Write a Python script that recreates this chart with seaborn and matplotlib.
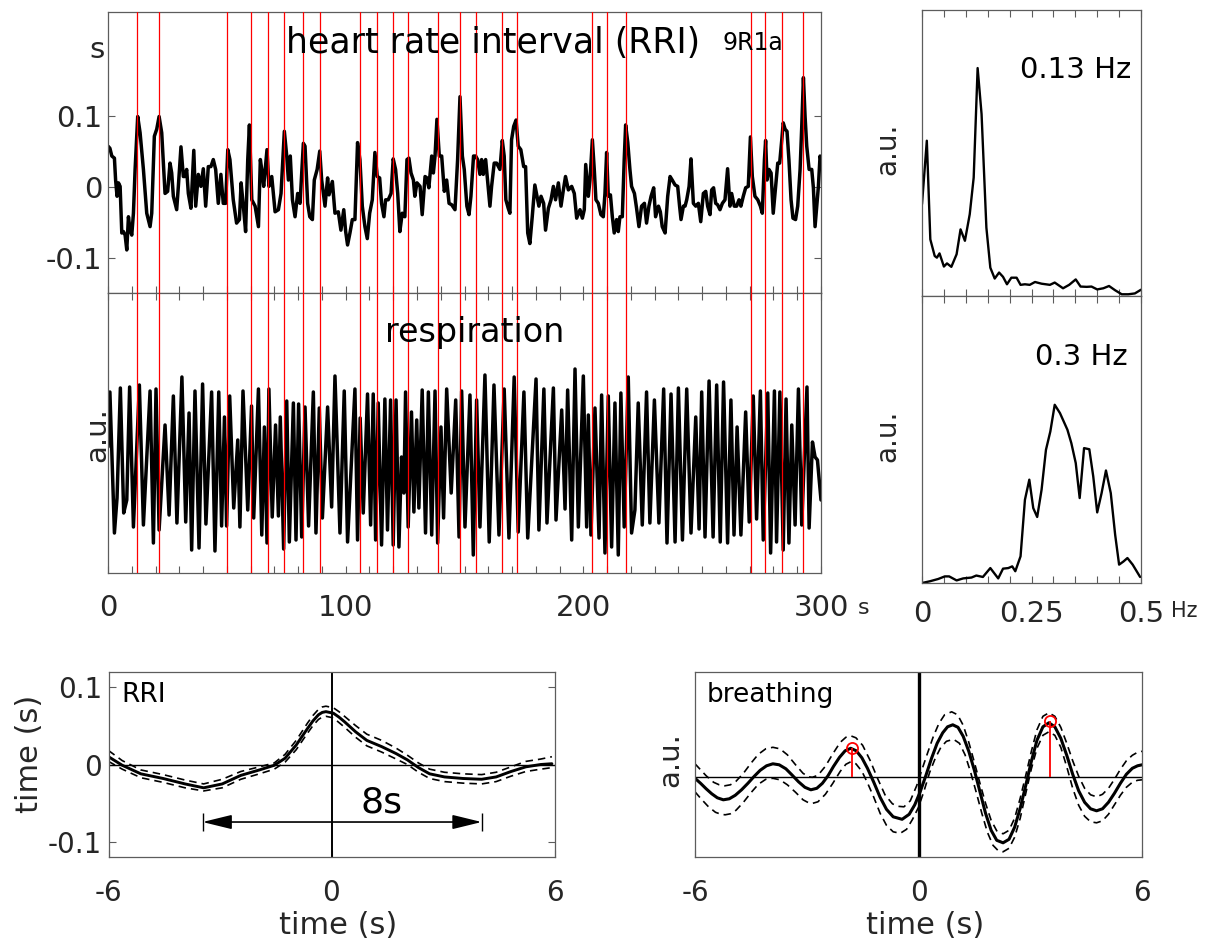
import numpy as np
import pandas as pd
import matplotlib
matplotlib.use("Agg")
import matplotlib.pyplot as plt
import seaborn as sns

# ---------------- data ----------------
# heart rate interval (RRI) trace, seconds vs seconds
rri_time = [
    0.0, 0.8, 1.6, 2.7, 3.2, 3.8, 4.4, 5.1, 5.8, 6.5,
    7.2, 7.9, 8.6, 9.3, 10.0, 10.7, 11.4, 12.5, 13.5, 14.9,
    16.3, 17.7, 18.4, 19.5, 20.5, 21.5, 22.6, 24.0, 25.1, 26.1,
    26.8, 27.5, 28.9, 29.6, 30.7, 31.7, 32.4, 33.1, 33.8, 34.9,
    36.1, 36.9, 38.0, 39.1, 40.1, 41.1, 42.2, 43.3, 44.3, 45.3,
    46.4, 47.5, 48.5, 49.5, 50.4, 51.3, 52.7, 54.1, 55.3, 56.0,
    56.9, 57.9, 58.8, 59.5, 60.5, 61.9, 63.3, 64.1, 64.9, 65.5,
    66.9, 67.7, 68.9, 70.3, 71.7, 72.8, 74.2, 75.2, 75.9, 76.7,
    77.6, 78.7, 79.8, 80.8, 82.2, 82.9, 84.0, 84.9, 86.0, 86.8,
    88.0, 89.1, 89.9, 91.3, 92.4, 93.0, 94.4, 95.5, 96.9, 98.0,
    99.2, 100.0,
    100.8, 101.8, 102.8, 103.9, 105.0, 106.0, 107.0, 108.1, 109.1, 110.1,
    111.2, 112.3, 113.3, 114.3, 115.1, 116.1, 116.8, 117.9, 119.1, 120.0,
    121.0, 121.9, 122.8, 123.8, 124.9, 125.8, 126.6, 127.5, 128.5, 129.1,
    130.0, 131.3, 132.2, 133.4, 134.2, 135.0, 136.2, 136.9, 137.6, 138.4,
    139.4, 140.4, 141.5, 142.5, 143.5, 144.6, 146.0, 147.1, 148.1, 149.1,
    149.9, 151.0, 151.9, 152.7, 153.8, 154.7, 155.5, 156.5, 157.2, 157.9,
    158.9, 159.7, 160.7, 161.4, 162.5, 163.5, 164.9, 165.9, 166.7, 167.4,
    168.4, 169.1, 169.8, 170.7, 171.7, 172.6, 173.7, 174.9, 175.7, 176.6,
    177.5, 178.5, 179.6, 180.5, 181.3, 182.2, 183.3, 184.1, 185.3, 186.4,
    187.4, 188.3, 189.5, 190.6, 191.6, 192.5, 193.7, 195.1, 196.2, 197.2,
    198.6, 199.6, 200.4, 201.0,
    202.1, 202.8, 203.8, 204.6, 205.3, 206.3, 207.4, 208.4, 209.1, 209.8,
    210.5, 211.4, 212.2, 213.0, 214.0, 214.7, 215.4, 216.4, 217.2, 217.8,
    218.7, 219.6, 220.3, 221.5, 222.4, 223.4, 224.5, 225.7, 226.6, 227.6,
    228.5, 229.6, 230.4, 231.6, 232.4, 233.2, 234.4, 235.5, 236.5, 237.4,
    238.6, 239.7, 240.5, 241.1, 242.1, 242.8, 243.5, 244.5, 245.3, 246.3,
    247.3, 248.4, 249.4, 250.5, 251.5, 252.3, 253.3, 254.0, 254.8, 255.7,
    256.5, 257.5, 258.5, 259.6, 260.7, 261.7, 262.4, 263.5, 264.5, 265.5,
    266.3, 267.3, 268.3, 269.4, 270.3, 271.1, 272.2, 273.4, 274.5, 275.3,
    276.2, 276.7, 277.3, 278.1, 279.0, 279.9, 280.9, 281.8, 282.6, 283.5,
    284.1, 284.9, 285.7, 286.5, 287.4, 288.2, 289.3, 290.2, 291.2, 291.9,
    292.6, 293.3, 294.0, 295.0, 296.1, 296.8, 297.5, 298.2, 298.9, 299.6,
    300.0,
]
rri_value = [
    0.058, 0.055, 0.044, 0.041, 0.010, -0.013, 0.006, 0.001, -0.065, -0.063,
    -0.068, -0.089, -0.042, -0.061, -0.068, -0.037, 0.025, 0.100, 0.077, 0.025,
    -0.037, -0.056, -0.037, 0.072, 0.082, 0.100, 0.077, -0.009, -0.006, 0.034,
    0.020, -0.013, -0.032, 0.001, 0.057, 0.015, 0.015, 0.025, -0.009, -0.030,
    0.052, -0.027, 0.018, 0.001, 0.026, -0.027, 0.029, 0.029, 0.039, 0.025,
    -0.023, 0.018, -0.023, -0.023, 0.053, 0.039, -0.018, -0.051, -0.046, 0.006,
    -0.025, -0.063, 0.039, 0.088, -0.018, -0.027, -0.056, 0.039, 0.020, 0.001,
    0.053, 0.001, 0.015, -0.035, -0.032, -0.009, 0.079, 0.044, 0.010, 0.044,
    -0.018, -0.042, -0.009, -0.023, 0.062, 0.058, -0.023, -0.042, -0.046, 0.010,
    0.025, 0.051, 0.010, -0.027, 0.013, -0.011, 0.008, -0.037, -0.035, -0.061,
    -0.032, -0.063,
    -0.082, -0.065, -0.046, -0.046, 0.063, 0.039, -0.027, -0.056, -0.073, -0.037,
    -0.018, 0.049, 0.015, 0.013, -0.023, -0.042, -0.018, -0.018, -0.009, 0.040,
    0.025, -0.009, -0.063, -0.037, -0.042, 0.039, 0.041, 0.020, 0.010, -0.013,
    0.006, 0.001, -0.039, 0.015, 0.013, -0.001, 0.044, 0.020, 0.044, 0.096,
    0.044, 0.044, -0.006, 0.010, -0.023, -0.025, -0.032, 0.039, 0.128, 0.044,
    0.025, -0.027, -0.039, -0.013, 0.044, 0.044, 0.039, 0.018, 0.039, 0.018,
    0.039, 0.010, -0.027, 0.001, 0.034, 0.034, 0.025, 0.066, 0.044, -0.018,
    -0.030, -0.037, 0.067, 0.086, 0.095, 0.058, 0.053, 0.029, 0.029, -0.065,
    -0.080, -0.042, 0.003, -0.013, -0.027, -0.013, -0.023, -0.061, -0.030, -0.018,
    0.001, -0.018, 0.006, -0.027, -0.004, 0.015, -0.004, 0.001, -0.009, -0.044,
    -0.032, -0.044, -0.032, 0.032,
    -0.013, 0.010, 0.067, 0.025, -0.018, -0.023, -0.039, -0.042, -0.009, 0.049,
    -0.013, -0.011, -0.042, -0.065, -0.046, -0.063, -0.042, -0.042, 0.039, 0.088,
    0.063, 0.025, 0.001, -0.009, -0.030, -0.056, -0.027, -0.023, -0.051, -0.027,
    -0.013, -0.001, -0.042, -0.027, -0.035, -0.056, -0.065, -0.013, 0.015, 0.010,
    0.003, 0.001, -0.027, -0.046, -0.027, -0.027, -0.018, 0.001, 0.040, -0.023,
    -0.027, -0.023, -0.049, -0.009, -0.006, -0.027, -0.039, -0.004, -0.001, -0.023,
    -0.025, -0.032, -0.023, -0.018, 0.026, -0.027, -0.009, -0.027, -0.027, -0.018,
    -0.027, -0.013, -0.001, 0.001, 0.071, 0.015, -0.013, -0.018, -0.027, -0.037,
    0.039, 0.066, 0.010, 0.025, 0.020, -0.037, 0.001, 0.034, 0.034, 0.067,
    0.091, 0.082, 0.079, 0.039, -0.018, -0.044, -0.046, -0.027, 0.025, 0.086,
    0.155, 0.100, 0.058, 0.025, 0.025, -0.001, -0.056, -0.027, 0.001, 0.044,
    0.039,
]
# red marker lines (times of RRI peaks), s
peak_times = [12.3, 21.3, 50.2, 60.2, 67.2, 74.2, 82.2, 89.1,
              106.0, 113.2, 120.0, 126.1, 139.0, 148.0, 155.0, 165.9, 172.0,
              203.8, 209.8, 217.8, 270.5, 276.6, 283.6, 292.6]

# respiration trace (a.u.)
resp_time = [
    0.0, 0.8, 2.7, 3.8, 5.2, 6.6, 7.9, 9.1, 10.7, 13.2,
    14.9, 17.7, 19.1, 20.2, 21.5, 24.0, 25.7, 27.5, 29.0, 31.1,
    32.7, 34.1, 35.2, 36.6, 38.3, 39.8, 41.2, 43.6, 45.0, 46.6,
    47.8, 49.0, 49.9, 51.2, 52.9, 54.6, 55.5, 56.8, 58.8, 60.4,
    61.3, 63.3, 64.7, 65.8, 66.9, 67.7, 69.1, 70.5, 71.7, 72.5,
    73.9, 75.2, 76.3, 78.0, 79.1, 80.2, 81.5, 82.9, 84.4, 86.4,
    87.5, 88.9, 90.2, 92.4, 94.1, 95.5, 97.6, 99.4, 100.8,
    101.8, 103.9, 105.0, 106.1, 107.4, 109.2, 110.5, 111.6, 112.6, 113.7,
    115.1, 116.5, 117.6, 118.9, 120.0, 121.2, 122.4, 123.5, 124.5, 125.2,
    126.3, 127.7, 128.7, 129.9, 130.8, 132.2, 133.6, 134.8, 136.2, 137.6,
    138.7, 140.1, 141.2, 142.5, 144.4, 146.3, 147.7, 148.8, 150.2, 152.3,
    153.7, 155.1, 156.5, 158.6, 160.4, 162.4, 164.5, 166.7, 168.7, 170.9,
    172.6, 175.0, 176.6, 180.1, 181.3, 183.4, 184.7, 187.4, 188.5, 190.9,
    192.3, 193.4, 195.1, 196.5, 197.9, 200.0, 201.4,
    202.1, 203.2, 204.9, 206.6, 207.7, 209.1, 210.5, 211.9, 213.3, 214.7,
    215.8, 217.2, 218.9, 220.3, 221.7, 223.1, 224.8, 226.6, 228.0, 229.9,
    231.8, 233.8, 235.2, 236.9, 238.6, 240.0, 241.7, 243.5, 245.3, 247.3,
    248.7, 249.8, 251.2, 252.9, 254.6, 256.1, 257.6, 259.0, 260.7, 262.1,
    263.4, 264.7, 266.3, 268.3, 269.8, 271.5, 272.9, 274.5, 275.7, 277.6,
    278.8, 280.4, 281.3, 282.7, 284.1, 285.3, 286.5, 287.7, 289.1, 290.5,
    291.9, 294.1, 295.0, 296.4, 297.5, 298.5, 300.0,
]
resp_value = [
    -0.14, 0.41, -1.00, -0.65, 0.45, -0.80, -0.67, 0.46, -0.94, 0.48,
    -0.92, 0.42, -1.10, 0.44, -0.97, 0.08, -0.82, 0.37, -0.90, 0.56,
    -0.89, 0.20, -1.17, 0.42, -1.15, 0.49, -0.91, 0.41, -1.18, 0.41,
    -0.93, 0.16, -0.93, 0.37, -0.75, -0.07, -0.94, 0.42, -0.77, 0.27,
    -0.85, 0.44, -1.02, 0.06, -1.10, 0.44, -0.84, 0.08, -0.83, 0.16,
    -1.16, 0.32, -1.09, 0.30, -1.07, 0.29, -1.04, 0.26, -0.93, 0.41,
    -1.00, 0.25, -0.85, 0.26, -0.74, 0.57, -1.00, 0.42, -1.09,
    -0.60, 0.44, -1.07, 0.15, -0.80, 0.39, -0.92, 0.39, -1.07, 0.30,
    -1.12, 0.34, -0.97, 0.33, -1.12, 0.33, -1.14, -0.24, -0.60, 0.41,
    -0.94, 0.21, -0.79, 0.13, -0.75, 0.43, -1.00, 0.41, -1.02, 0.42,
    -1.10, 0.06, -0.85, 0.44, -0.60, 0.33, -1.04, 0.42, -0.94, 0.38,
    -1.22, 0.33, -0.94, 0.58, -1.09, 0.48, -1.02, 0.44, -1.05, 0.56,
    -0.99, 0.41, -1.05, 0.54, -0.97, 0.44, -0.90, 0.45, -0.87, 0.23,
    -0.76, 0.43, -1.07, 0.64, -0.94, 0.57, -0.94,
    0.18, -1.02, 0.25, -1.05, 0.38, -1.20, 0.37, -1.14, 0.30, -1.22,
    0.40, -0.94, 0.56, -1.00, -0.77, 0.30, -0.92, 0.41, -0.90, 0.33,
    -0.90, 0.44, -1.10, 0.39, -1.09, 0.45, -1.07, 0.44, -1.00, 0.16,
    -0.96, 0.41, -1.04, 0.52, -1.04, 0.48, -1.09, 0.51, -1.10, 0.33,
    -1.02, 0.06, -1.02, 0.21, -0.89, 0.37, -0.86, 0.42, -1.07, 0.40,
    -1.20, 0.42, -1.09, 0.41, -1.17, 0.34, -1.10, 0.08, -0.92, 0.44,
    -0.92, 0.46, -0.95, -0.09, -0.24, -0.27, -0.67,
]

# spectra (normalised a.u.)
rri_freq = [0, 0.011, 0.019, 0.029, 0.034, 0.040, 0.050, 0.057, 0.067, 0.079,
            0.088, 0.098, 0.109, 0.118, 0.127, 0.136, 0.147, 0.156, 0.166, 0.176,
            0.185, 0.194, 0.204, 0.216, 0.225, 0.235, 0.246, 0.258, 0.273, 0.292,
            0.303, 0.322, 0.336, 0.351, 0.362, 0.376, 0.387, 0.400, 0.414, 0.427,
            0.441, 0.456, 0.471, 0.486, 0.500]
rri_power = [0.321, 0.543, 0.198, 0.140, 0.134, 0.149, 0.103, 0.114, 0.102, 0.146,
             0.233, 0.193, 0.286, 0.414, 0.797, 0.636, 0.239, 0.099, 0.061, 0.082,
             0.067, 0.041, 0.064, 0.064, 0.039, 0.041, 0.039, 0.049, 0.043, 0.039,
             0.047, 0.027, 0.039, 0.058, 0.033, 0.032, 0.033, 0.023, 0.027, 0.035,
             0.020, 0.006, 0.006, 0.009, 0.022]
resp_freq = [0, 0.018, 0.037, 0.052, 0.062, 0.079, 0.094, 0.113, 0.124, 0.139,
             0.156, 0.174, 0.185, 0.197, 0.206, 0.213, 0.225, 0.235, 0.245, 0.254,
             0.263, 0.273, 0.283, 0.293, 0.303, 0.315, 0.332, 0.341, 0.351, 0.360,
             0.370, 0.382, 0.391, 0.400, 0.410, 0.420, 0.431, 0.441, 0.450, 0.460,
             0.469, 0.481, 0.498]
resp_power = [0.0, 0.006, 0.014, 0.023, 0.023, 0.009, 0.016, 0.019, 0.026, 0.021,
              0.052, 0.016, 0.050, 0.052, 0.058, 0.041, 0.093, 0.290, 0.360, 0.261,
              0.230, 0.325, 0.464, 0.528, 0.621, 0.592, 0.534, 0.487, 0.418, 0.296,
              0.470, 0.466, 0.371, 0.246, 0.313, 0.392, 0.313, 0.168, 0.064, 0.075,
              0.087, 0.064, 0.021]

# peak-triggered average of RRI (s)
avg_time = [-6.0, -5.63, -5.13, -4.53, -3.94, -3.44, -2.94, -2.44, -1.94, -1.54,
            -1.25, -0.95, -0.65, -0.5, -0.35, -0.25, -0.15, 0.05, 0.2, 0.35,
            0.65, 0.95, 1.35, 1.74, 2.04, 2.34, 2.64, 3.04, 3.54, 4.04,
            4.43, 4.83, 5.23, 5.63, 5.93]
avg_mean = [0.010, -0.001, -0.012, -0.018, -0.025, -0.030, -0.025, -0.014, -0.007, -0.001,
            0.008, 0.025, 0.046, 0.056, 0.064, 0.067, 0.068, 0.066, 0.061, 0.055,
            0.042, 0.031, 0.023, 0.014, 0.006, -0.004, -0.012, -0.016, -0.018, -0.019,
            -0.016, -0.009, -0.003, 0.000, 0.001]
avg_upper = [0.018, 0.005, -0.007, -0.013, -0.020, -0.025, -0.019, -0.009, -0.003, 0.002,
             0.013, 0.031, 0.053, 0.063, 0.071, 0.074, 0.075, 0.073, 0.068, 0.062,
             0.050, 0.039, 0.031, 0.021, 0.012, 0.002, -0.006, -0.010, -0.012, -0.013,
             -0.010, -0.003, 0.004, 0.007, 0.010]
avg_lower = [0.004, -0.006, -0.017, -0.023, -0.030, -0.034, -0.030, -0.019, -0.012, -0.006,
             0.003, 0.019, 0.040, 0.050, 0.058, 0.061, 0.062, 0.060, 0.054, 0.048,
             0.035, 0.024, 0.016, 0.007, 0.000, -0.010, -0.018, -0.022, -0.024, -0.025,
             -0.022, -0.015, -0.009, -0.006, -0.004]
arrow_span = [-3.47, 4.04]
arrow_level = -0.074
arrow_label_pos = (1.35, -0.062)

# peak-triggered average of breathing (a.u.)
br_time = [-6.0, -5.85, -5.7, -5.55, -5.4, -5.24, -5.08, -4.92, -4.75, -4.58,
           -4.41, -4.25, -4.08, -3.91, -3.74, -3.56, -3.4, -3.22, -3.05, -2.89,
           -2.73, -2.58, -2.43, -2.28, -2.12, -1.97, -1.82, -1.67, -1.52, -1.37,
           -1.2, -1.03, -0.86, -0.68, -0.44, -0.25, -0.1, 0.05, 0.2, 0.35,
           0.5, 0.65, 0.78, 0.92, 1.06, 1.2, 1.35, 1.5, 1.65, 1.8,
           1.95, 2.1, 2.27, 2.43, 2.58, 2.73, 2.88, 3.03, 3.18, 3.34,
           3.5, 3.66, 3.82, 3.98, 4.14, 4.3, 4.46, 4.62, 4.78, 4.94,
           5.1, 5.26, 5.42, 5.58, 5.74, 5.88, 6.0]
br_mean = [-0.02, -0.12, -0.23, -0.33, -0.41, -0.45, -0.43, -0.36, -0.25, -0.12,
           0.02, 0.14, 0.23, 0.27, 0.25, 0.17, 0.05, -0.09, -0.20, -0.25,
           -0.22, -0.12, 0.03, 0.22, 0.40, 0.53, 0.58, 0.53, 0.39, 0.18,
           -0.10, -0.40, -0.64, -0.79, -0.84, -0.74, -0.55, -0.28, 0.04, 0.38,
           0.68, 0.89, 1.01, 1.05, 1.00, 0.82, 0.52, 0.14, -0.29, -0.72,
           -1.06, -1.26, -1.31, -1.24, -1.00, -0.62, -0.16, 0.32, 0.74, 1.01,
           1.09, 1.01, 0.78, 0.44, 0.06, -0.27, -0.50, -0.63, -0.67, -0.63,
           -0.50, -0.32, -0.12, 0.06, 0.18, 0.23, 0.25]
br_up_time = [-6.0, -5.85, -5.7, -5.5, -5.35, -5.2, -5.05, -4.9, -4.7, -4.5,
              -4.3, -4.1, -3.91, -3.72, -3.52, -3.3, -3.1, -2.95, -2.85, -2.7,
              -2.5, -2.3, -2.1, -1.95, -1.82, -1.68, -1.5, -1.3, -1.1, -0.9,
              -0.7, -0.55, -0.39, -0.22, -0.05, 0.1, 0.25, 0.4, 0.55, 0.7,
              0.89, 1.05, 1.2, 1.35, 1.5, 1.65, 1.8, 1.95, 2.1, 2.27,
              2.43, 2.58, 2.73, 2.88, 3.03, 3.18, 3.34, 3.5, 3.66, 3.82,
              3.98, 4.14, 4.3, 4.46, 4.62, 4.78, 4.94, 5.1, 5.26, 5.42,
              5.58, 5.74, 5.88, 6.0]
br_upper = [0.27, 0.15, 0.03, -0.10, -0.15, -0.17, -0.15, -0.08, 0.08, 0.28,
            0.46, 0.57, 0.60, 0.57, 0.45, 0.25, 0.08, 0.01, 0.0, 0.04,
            0.22, 0.47, 0.70, 0.80, 0.83, 0.79, 0.64, 0.34, -0.02, -0.35,
            -0.53, -0.58, -0.59, -0.47, -0.17, 0.17, 0.50, 0.82, 1.08, 1.25,
            1.31, 1.25, 1.04, 0.70, 0.30, -0.12, -0.52, -0.86, -1.07, -1.13,
            -1.06, -0.82, -0.42, 0.04, 0.52, 0.95, 1.22, 1.29, 1.22, 1.00,
            0.68, 0.33, 0.02, -0.22, -0.35, -0.39, -0.34, -0.22, -0.04, 0.16,
            0.33, 0.44, 0.50, 0.52]
br_lo_time = [-6.0, -5.85, -5.65, -5.45, -5.3, -5.19, -5.05, -4.9, -4.7, -4.5,
              -4.3, -4.1, -3.91, -3.72, -3.52, -3.3, -3.1, -2.95, -2.84, -2.7,
              -2.5, -2.3, -2.1, -1.95, -1.82, -1.68, -1.52, -1.37, -1.2, -1.03,
              -0.86, -0.68, -0.49, -0.32, -0.16, 0.0, 0.15, 0.3, 0.45, 0.6,
              0.75, 0.94, 1.1, 1.25, 1.4, 1.55, 1.7, 1.85, 2.0, 2.13,
              2.27, 2.43, 2.58, 2.73, 2.88, 3.03, 3.18, 3.34, 3.5, 3.66,
              3.82, 3.98, 4.14, 4.3, 4.46, 4.62, 4.78, 4.94, 5.1, 5.26,
              5.42, 5.58, 5.74, 5.88, 6.0]
br_lower = [-0.29, -0.42, -0.58, -0.70, -0.74, -0.75, -0.73, -0.66, -0.50, -0.31,
            -0.14, -0.04, -0.02, -0.05, -0.15, -0.30, -0.45, -0.51, -0.52, -0.49,
            -0.34, -0.12, 0.12, 0.26, 0.31, 0.27, 0.12, -0.11, -0.40, -0.72,
            -0.96, -1.09, -1.12, -1.04, -0.84, -0.60, -0.27, 0.10, 0.38, 0.60,
            0.72, 0.76, 0.68, 0.45, 0.10, -0.30, -0.72, -1.10, -1.36, -1.46,
            -1.49, -1.42, -1.20, -0.82, -0.32, 0.17, 0.58, 0.84, 0.91, 0.84,
            0.60, 0.21, -0.22, -0.56, -0.78, -0.89, -0.91, -0.87, -0.74, -0.55,
            -0.36, -0.20, -0.10, -0.06, -0.05]
br_peak_time = [-1.79, 3.53]
br_peak_value = [0.58, 1.13]

# ---------------- figure ----------------
sns.set_theme(style="white")
plt.rcParams['font.family'] = ['DejaVu Sans']
TXT = '#262626'
SP = '#5c5c5c'

W, H = 1217, 944
fig = plt.figure(figsize=(W / 100, H / 100), dpi=100)
fig.patch.set_facecolor('white')


def px_axes(l, t, r, b):
    return fig.add_axes([l / W, 1 - b / H, (r - l) / W, (b - t) / H])


def ftext(x, y, s, **kw):
    kw.setdefault('color', TXT)
    kw.setdefault('ha', 'center')
    kw.setdefault('va', 'center')
    fig.text(x / W, 1 - y / H, s, **kw)


def style(ax, labelsize=20):
    ax.set_facecolor('white')
    for s in ax.spines.values():
        s.set_visible(True)
        s.set_color(SP)
        s.set_linewidth(0.9)
    ax.tick_params(which='both', direction='in', color=SP, width=0.8, length=5,
                   labelcolor=TXT, labelsize=labelsize,
                   bottom=False, top=False, left=False, right=False,
                   labelbottom=False, labelleft=False)
    ax.grid(False)


def line(ax, x, y, lw, ls='-', color='black', z=2):
    sns.lineplot(x=x, y=y, ax=ax, color=color, linewidth=lw, estimator=None,
                 sort=False, zorder=z)
    ln = ax.lines[-1]
    ln.set_solid_joinstyle('round')
    if ls == '--':
        ln.set_dashes((4.5, 3.0))
    ax.set_xlabel('')
    ax.set_ylabel('')


ax1 = px_axes(108, 12, 821, 293)
ax2 = px_axes(108, 293, 821, 573)
ax3 = px_axes(922, 10, 1141, 296)
ax4 = px_axes(922, 296, 1141, 583)
ax5 = px_axes(108.5, 672, 554.5, 857)
ax6 = px_axes(695, 672, 1142, 857)
for a in (ax1, ax2, ax3, ax4):
    style(a, 21)
for a in (ax5, ax6):
    style(a, 20)

# --- RRI trace
line(ax1, rri_time, rri_value, 2.5)
for t in peak_times:
    ax1.axvline(t, color='red', lw=0.9, zorder=4)
ax1.set_xlim(0, 300)
ax1.set_ylim(-0.15, 0.248)
ax1.set_xticks(np.arange(0, 301, 10))
ax1.set_yticks([-0.1, 0, 0.1])
ax1.set_yticklabels(['-0.1', '0', '0.1'])
ax1.tick_params(bottom=True, left=True, right=True, labelleft=True, pad=4)

# --- respiration trace
line(ax2, resp_time, resp_value, 2.5)
for t in peak_times:
    ax2.axvline(t, color='red', lw=0.9, zorder=4)
ax2.set_xlim(0, 300)
ax2.set_ylim(-1.4, 1.4)
ax2.set_xticks([0, 100, 200, 300])
ax2.set_xticklabels(['0', '100', '200', '300'])
ax2.set_xticks(np.arange(0, 301, 10), minor=True)
ax2.set_yticks([])
ax2.tick_params(which='both', bottom=True, top=True)
ax2.tick_params(axis='x', which='major', labelbottom=True, pad=15)

# --- spectra
line(ax3, rri_freq, rri_power, 1.7)
ax3.set_xlim(0, 0.5)
ax3.set_ylim(0, 1)
ax3.set_xticks(np.arange(0, 0.501, 0.05))
ax3.set_yticks([])
ax3.tick_params(bottom=True, top=True)

line(ax4, resp_freq, resp_power, 1.7)
ax4.set_xlim(0, 0.5)
ax4.set_ylim(0, 1)
ax4.set_xticks([0, 0.25, 0.5])
ax4.set_xticklabels(['0', '0.25', '0.5'])
ax4.set_xticks(np.arange(0, 0.501, 0.05), minor=True)
ax4.set_yticks([])
ax4.tick_params(which='both', bottom=True, top=True)
ax4.tick_params(axis='x', which='major', labelbottom=True, pad=12)

# --- averaged RRI
ax5.axhline(0, color='black', lw=1.0, zorder=1)
ax5.axvline(0, color='black', lw=1.4, zorder=1)
line(ax5, avg_time, avg_upper, 1.2, '--')
line(ax5, avg_time, avg_lower, 1.2, '--')
line(ax5, avg_time, avg_mean, 2.1)
ax5.set_xlim(-6, 6)
ax5.set_ylim(-0.119, 0.119)
ax5.set_xticks([-6, 0, 6])
ax5.set_xticklabels(['-6', '0', '6'])
ax5.set_yticks([-0.1, 0, 0.1])
ax5.set_yticklabels(['-0.1', '0', '0.1'])
ax5.tick_params(bottom=True, left=True, right=True, labelleft=True, labelbottom=True)
ax5.tick_params(axis='x', pad=16)
ax5.tick_params(axis='y', pad=4.5)
ax5.annotate('', xy=(arrow_span[0], arrow_level), xytext=(arrow_span[1], arrow_level),
             arrowprops=dict(arrowstyle='<|-|>,head_length=0.9,head_width=0.22',
                             color='black', lw=1.2, shrinkA=0, shrinkB=0,
                             mutation_scale=20))
ax5.vlines(arrow_span, arrow_level - 0.011, arrow_level + 0.011, color='black', lw=1.0)
ax5.text(arrow_label_pos[0], arrow_label_pos[1], '8s', ha='center', va='baseline',
         fontsize=26, color='black')

# --- averaged breathing
ax6.axhline(0, color='black', lw=1.0, zorder=1)
ax6.axvline(0, color='black', lw=2.4, zorder=1)
line(ax6, br_up_time, br_upper, 1.2, '--')
line(ax6, br_lo_time, br_lower, 1.2, '--')
line(ax6, br_time, br_mean, 2.2)
ax6.vlines(br_peak_time, 0, br_peak_value, color='red', lw=1.3, zorder=5)
ax6.plot(br_peak_time, br_peak_value, 'o', mfc='none', mec='red', ms=8, mew=1.3, zorder=6)
ax6.set_xlim(-6, 6)
ax6.set_ylim(-1.594, 2.106)
ax6.set_xticks([-6, 0, 6])
ax6.set_xticklabels(['-6', '0', '6'])
ax6.set_yticks([])
ax6.tick_params(bottom=True, labelbottom=True, pad=16)

# --- texts
ftext(97, 50, 's', fontsize=21)
ftext(285.5, 53, 'heart rate interval (RRI)', fontsize=25, ha='left', va='baseline', color='black')
ftext(722, 50, '9R1a', fontsize=17, ha='left', va='baseline', color='black')
ftext(475, 342, 'respiration', fontsize=24, va='baseline', color='black')
ftext(97, 435, 'a.u.', fontsize=21, rotation=90)
ftext(864, 608, 's', fontsize=16)
ftext(1131, 78, '0.13 Hz', fontsize=21, ha='right', va='baseline', color='black')
ftext(1128, 365, '0.3 Hz', fontsize=21, ha='right', va='baseline', color='black')
ftext(887, 149, 'a.u.', fontsize=20, rotation=90)
ftext(887, 436, 'a.u.', fontsize=20, rotation=90)
ftext(1184, 611, 'Hz', fontsize=15)
ftext(121.5, 702, 'RRI', fontsize=19, ha='left', va='baseline', color='black')
ftext(707, 702, 'breathing', fontsize=19, ha='left', va='baseline', color='black')
ftext(30, 754, 'time (s)', fontsize=22, rotation=90)
ftext(338, 926, 'time (s)', fontsize=22)
ftext(925, 926, 'time (s)', fontsize=22)
ftext(670, 760, 'a.u.', fontsize=21, rotation=90)

fig.savefig('out.png', dpi=100, facecolor='white')
